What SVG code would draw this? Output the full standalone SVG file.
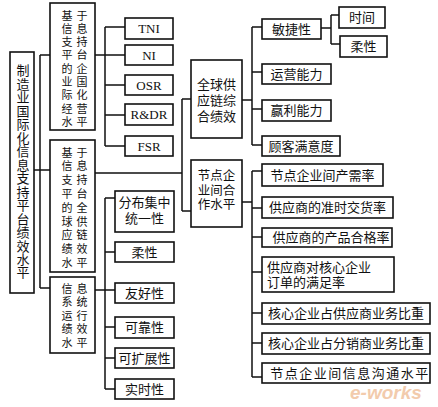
<svg xmlns="http://www.w3.org/2000/svg" width="438" height="407" viewBox="0 0 438 407">
<style>
.b{fill:#fff;stroke:#111;stroke-width:1.6}
.l{fill:none;stroke:#111;stroke-width:1.5}
text{font-family:"Liberation Serif","Noto Sans CJK SC",serif;font-size:13px;fill:#111}
.c{text-anchor:middle}
.v{font-size:11px;letter-spacing:4px}
.vt{writing-mode:vertical-rl;letter-spacing:0.47px}
.wm{font-family:"Liberation Sans",sans-serif;font-size:19px;font-weight:bold;font-style:italic;fill:#e9a26a;opacity:0.55}
</style>
<rect width="438" height="407" fill="#fff"/>
<g id="connectors">
<path class="l" d="M34 170H50M40 55V288M40 55H50M40 288H50"/>
<path class="l" d="M95 55H105M105 27V146M105 27H125M105 55H125M105 85H125M105 115H125M105 146H125"/>
<path class="l" d="M95 173H182M182 99V211M182 99H191M182 211H191"/>
<path class="l" d="M95 290H115M105 198V389M105 198H115M105 252H115M105 327H115M105 358H115M105 389H115"/>
<path class="l" d="M242 100H252M252 27V145M252 27H262M252 72H262M252 109H262M252 145H262"/>
<path class="l" d="M321 28H331M331 15V44M331 15H339M331 44H340"/>
<path class="l" d="M242 202H252M252 171V377M252 171H262M252 208H262M252 237H262M252 272H262M252 313H262M252 343H262M252 377H262"/>
</g>
<g id="root">
<rect class="b" x="10" y="52" width="24" height="241"/>
<text class="vt" x="22" y="64">制造业国际化信息支持平台绩效水平</text>
</g>
<g id="n1">
<rect class="b" x="50" y="3" width="45" height="127"/>
<text class="v"><tspan x="61.5" y="19.5">基于</tspan><tspan x="61.5" dy="13.3">信息</tspan><tspan x="61.5" dy="13.3">支持</tspan><tspan x="61.5" dy="13.3">平台</tspan><tspan x="61.5" dy="13.3">的企</tspan><tspan x="61.5" dy="13.3">业国</tspan><tspan x="61.5" dy="13.3">际化</tspan><tspan x="61.5" dy="13.3">经营</tspan><tspan x="61.5" dy="13.3">水平</tspan></text>
</g>
<g id="n2">
<rect class="b" x="50" y="140" width="45" height="132"/>
<text class="v"><tspan x="61.5" y="156.5">基于</tspan><tspan x="61.5" dy="13.8">信息</tspan><tspan x="61.5" dy="13.8">支持</tspan><tspan x="61.5" dy="13.8">平台</tspan><tspan x="61.5" dy="13.8">的全</tspan><tspan x="61.5" dy="13.8">球供</tspan><tspan x="61.5" dy="13.8">应链</tspan><tspan x="61.5" dy="13.8">绩效</tspan><tspan x="61.5" dy="13.8">水平</tspan></text>
</g>
<g id="n3">
<rect class="b" x="50" y="277" width="45" height="76"/>
<text class="v"><tspan x="61.5" y="292.5">信息</tspan><tspan x="61.5" dy="13.5">系统</tspan><tspan x="61.5" dy="13.5">运行</tspan><tspan x="61.5" dy="13.5">绩效</tspan><tspan x="61.5" dy="13.5">水平</tspan></text>
</g>
<g id="tni"><rect class="b" x="125" y="18" width="48" height="21"/><text class="c" x="149" y="33">TNI</text></g>
<g id="ni"><rect class="b" x="125" y="45" width="48" height="20"/><text class="c" x="149" y="60">NI</text></g>
<g id="osr"><rect class="b" x="125" y="75" width="48" height="20"/><text class="c" x="149" y="90">OSR</text></g>
<g id="rdr"><rect class="b" x="125" y="104" width="48" height="21"/><text class="c" x="149" y="119">R&amp;DR</text></g>
<g id="fsr"><rect class="b" x="125" y="136" width="48" height="20"/><text class="c" x="149" y="151">FSR</text></g>
<g id="gsc">
<rect class="b" x="191" y="60" width="51" height="78"/>
<text class="c"><tspan x="216.5" y="89">全球供</tspan><tspan x="216.5" dy="16">应链综</tspan><tspan x="216.5" dy="16">合绩效</tspan></text>
</g>
<g id="coop">
<rect class="b" x="191" y="160" width="51" height="67"/>
<text class="c" style="font-size:12.5px"><tspan x="216.5" y="180">节点企</tspan><tspan x="216.5" dy="14.5">业间合</tspan><tspan x="216.5" dy="14.5">作水平</tspan></text>
</g>
<g id="fbjz"><rect class="b" x="115" y="191" width="59" height="41"/><text class="c"><tspan x="144.5" y="207">分布集中</tspan><tspan x="144.5" dy="16">统一性</tspan></text></g>
<g id="rx1"><rect class="b" x="115" y="242" width="59" height="20"/><text class="c" x="144.5" y="257">柔性</text></g>
<g id="yhx"><rect class="b" x="115" y="283" width="59" height="20"/><text class="c" x="144.5" y="298">友好性</text></g>
<g id="kkx"><rect class="b" x="115" y="317" width="59" height="21"/><text class="c" x="144.5" y="332">可靠性</text></g>
<g id="kkzx"><rect class="b" x="115" y="348" width="59" height="20"/><text class="c" x="144.5" y="363">可扩展性</text></g>
<g id="ssx"><rect class="b" x="115" y="379" width="59" height="20"/><text class="c" x="144.5" y="394">实时性</text></g>
<g id="mjx"><rect class="b" x="262" y="19" width="59" height="20"/><text class="c" x="291.5" y="34">敏捷性</text></g>
<g id="sj"><rect class="b" x="339" y="7" width="46" height="21"/><text class="c" x="362" y="22">时间</text></g>
<g id="rx2"><rect class="b" x="340" y="36" width="47" height="21"/><text class="c" x="363.5" y="51">柔性</text></g>
<g id="yynl"><rect class="b" x="262" y="64" width="69" height="20"/><text class="c" x="296.5" y="79">运营能力</text></g>
<g id="ylnl"><rect class="b" x="262" y="100" width="69" height="21"/><text class="c" x="296.5" y="115">赢利能力</text></g>
<g id="gkmyd"><rect class="b" x="262" y="136" width="78" height="20"/><text class="c" x="301" y="151">顾客满意度</text></g>
<g id="r1"><rect class="b" x="262" y="164" width="121" height="22"/><text class="c" x="322.5" y="180">节点企业间产需率</text></g>
<g id="r2"><rect class="b" x="262" y="197" width="131" height="21"/><text class="c" x="327.5" y="212">供应商的准时交货率</text></g>
<g id="r3"><rect class="b" x="262" y="228" width="130" height="19"/><text class="c" x="331" y="242">供应商的产品合格率</text></g>
<g id="r4"><rect class="b" x="262" y="257" width="132" height="35"/><text><tspan x="267" y="272">供应商对核心企业</tspan><tspan x="267" dy="15">订单的满足率</tspan></text></g>
<g id="r5"><rect class="b" x="262" y="303" width="168" height="21"/><text class="c" x="346" y="318">核心企业占供应商业务比重</text></g>
<g id="r6"><rect class="b" x="262" y="333" width="168" height="21"/><text class="c" x="346" y="348">核心企业占分销商业务比重</text></g>
<g id="r7"><rect class="b" x="262" y="363" width="168" height="20"/><text class="c" x="350" y="378" letter-spacing="1.5">节点企业间信息沟通水平</text></g>
<g id="watermark"><text class="wm" x="350" y="399">e-works</text></g>
</svg>
